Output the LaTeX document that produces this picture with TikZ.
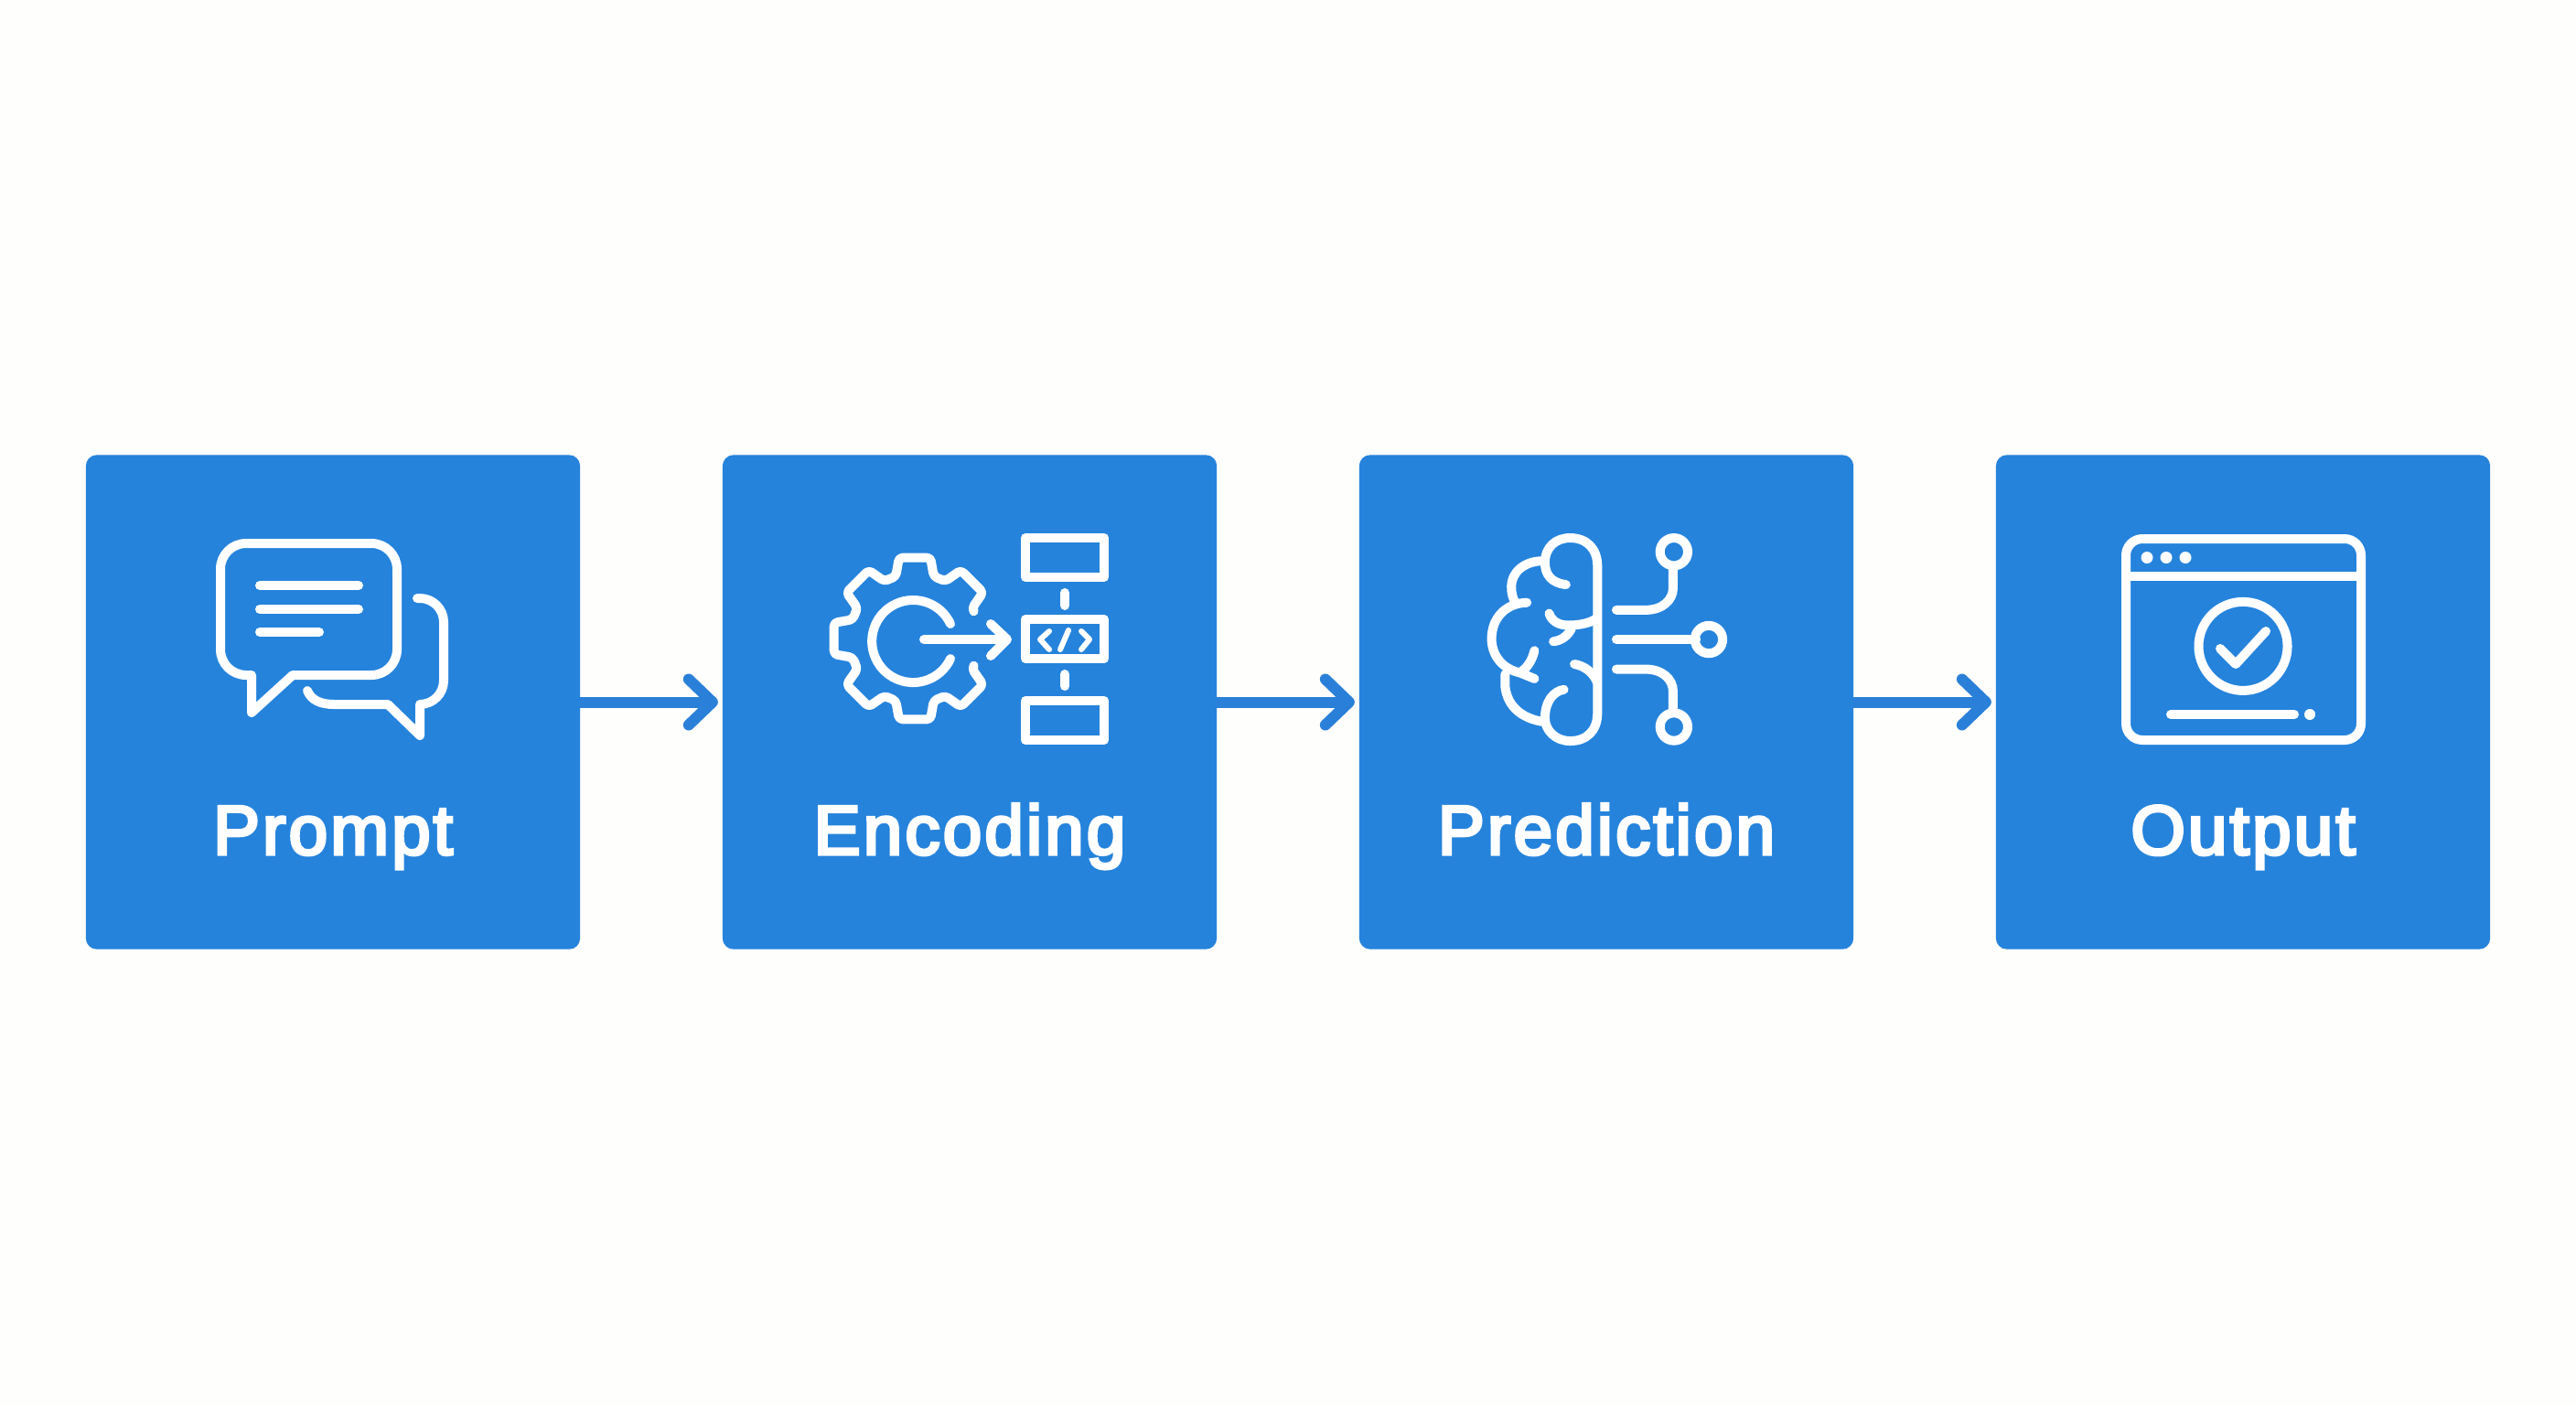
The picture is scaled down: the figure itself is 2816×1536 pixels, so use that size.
\documentclass[tikz,border=0pt]{standalone}
\usepackage{fontspec}
\setmainfont{Liberation Sans}[FakeBold=4.5,LetterSpace=4.2]
\usetikzlibrary{arrows.meta}
\definecolor{boxblue}{HTML}{2583DC}
\definecolor{flowblue}{HTML}{2A80D8}
\definecolor{paper}{HTML}{FEFEFC}
\tikzset{
  stepbox/.style={fill=boxblue,draw=none,rounded corners=0.12cm,minimum width=5.4cm,minimum height=5.4cm,inner sep=0pt,outer sep=0pt},
  steplabel/.style={text=white,anchor=base,inner sep=0pt,font=\fontsize{21.7pt}{26pt}\selectfont},
  flow/.style={draw=flowblue,line width=0.12cm,shorten >=0.05cm,-{Straight Barb[length=0.26cm,width=0.5cm,line width=0.12cm,round]}},
  icon/.style={draw=white,line width=0.1cm,line cap=round,line join=round},
  iconthin/.style={icon,line width=0.06cm},
  dotw/.style={fill=white,draw=none},
}
\begin{document}
\begin{tikzpicture}[x=0.01cm,y=-0.01cm]
\fill[paper] (0,0) rectangle (2816,1536);
\useasboundingbox (0,0) rectangle (2816,1536);

\node[stepbox] (b1) at (364,767.5) {};
\node[stepbox] (b2) at (1060,767.5) {};
\node[stepbox] (b3) at (1756,767.5) {};
\node[stepbox] (b4) at (2452,767.5) {};

\node[steplabel] (t1) at (364,934) {Prompt};
\node[steplabel] (t2) at (1060,934) {Encoding};
\node[steplabel] (t3) at (1756,934) {Prediction};
\node[steplabel] (t4) at (2452,934) {Output};

\draw[flow] (b1) -- (b2);
\draw[flow] (b2) -- (b3);
\draw[flow] (b3) -- (b4);

% Prompt icon
\draw[icon] (320,738) [rounded corners=0.28cm] -- (434,738) -- (434,594) -- (241,594) -- (241,738) [sharp corners] -- (275,738) -- (275,779) -- cycle;
\draw[icon] (284,640) -- (392,640);
\draw[icon] (284,666) -- (392,666);
\draw[icon] (284,691) -- (349,691);
\draw[icon] (456,654) [rounded corners=0.26cm] -- (485,654) -- (485,770) [sharp corners] -- (459,770) -- (459,804) -- (424,770) -- (365,770) .. controls (350,770) and (340,765) .. (336,755);

% Encoding icon
\begin{scope}[shift={(1000,698)}]
\draw[icon,rounded corners=0.04cm] (25:71) \foreach \a in {45,90,135,180,225,270,315} { -- ({\a-17}:71) -- ({\a-11}:90) -- ({\a+11}:90) -- ({\a+17}:71)} -- (335:71);
\end{scope}
\draw[icon] (1039,682) arc[start angle=25,end angle=335,radius=0.45cm];
\draw[icon] (1010,699) -- (1099,699);
\draw[icon] (1083,682) -- (1101,699) -- (1083,717);
\draw[icon] (1121,588) rectangle (1207,631);
\draw[icon] (1121,677) rectangle (1207,720);
\draw[icon] (1121,766) rectangle (1207,809);
\draw[icon] (1164,648) -- (1164,662);
\draw[icon] (1164,737) -- (1164,750);
\draw[iconthin] (1147,690) -- (1137,699) -- (1147,710);
\draw[iconthin] (1182,690) -- (1191,699) -- (1182,710);
\draw[iconthin] (1168,689) -- (1159,710);

% Prediction icon (coordinates of a zoomed crop)
\begin{scope}[shift={(1480,480)},xscale=0.4591,yscale=0.37]
\draw[icon] (505,430) .. controls (470,425) and (455,400) .. (455,365) .. controls (455,320) and (480,292) .. (515,292) .. controls (555,292) and (580,325) .. (580,375) -- (580,810) .. controls (580,860) and (555,892) .. (515,892) .. controls (480,892) and (455,860) .. (455,825) .. controls (455,775) and (475,745) .. (500,740);
\draw[icon] (450,360) .. controls (405,360) and (375,395) .. (375,435) .. controls (375,455) and (378,470) .. (385,485);
\draw[icon] (412,483) .. controls (360,485) and (328,530) .. (328,590) .. controls (328,640) and (355,680) .. (395,690) -- (430,708);
\draw[icon] (430,625) .. controls (425,650) and (415,675) .. (395,690);
\draw[icon] (360,695) -- (360,730) .. controls (365,790) and (400,825) .. (450,835);
\draw[icon] (465,515) .. controls (470,535) and (485,550) .. (510,550) .. controls (535,550) and (560,545) .. (578,530);
\draw[icon] (475,598) .. controls (495,595) and (510,580) .. (518,560);
\draw[icon] (525,665) .. controls (550,670) and (570,690) .. (580,720);
\draw[icon] (625,505) -- (695,505) .. controls (735,505) and (760,475) .. (760,440) -- (760,385);
\draw[icon] (625,592) -- (815,592);
\draw[icon] (625,680) -- (695,680) .. controls (735,680) and (760,710) .. (760,745) -- (760,805);
\draw[icon] (762,333) ellipse[x radius=33,y radius=41];
\draw[icon] (845,592) ellipse[x radius=33,y radius=41];
\draw[icon] (762,850) ellipse[x radius=33,y radius=41];
\end{scope}

% Output icon
\draw[icon,rounded corners=0.18cm] (2324,589) rectangle (2581,809);
\draw[icon] (2324,630) -- (2581,630);
\fill[dotw] (2347,609.5) circle[radius=6.5];
\fill[dotw] (2368,609.5) circle[radius=6.5];
\fill[dotw] (2389,609.5) circle[radius=6.5];
\draw[icon] (2452,706.4) circle[radius=0.485cm];
\draw[icon] (2427,709) -- (2444,726) -- (2477,690);
\draw[icon] (2373,781) -- (2508,781);
\fill[dotw] (2525,781) circle[radius=6];
\end{tikzpicture}
\end{document}
